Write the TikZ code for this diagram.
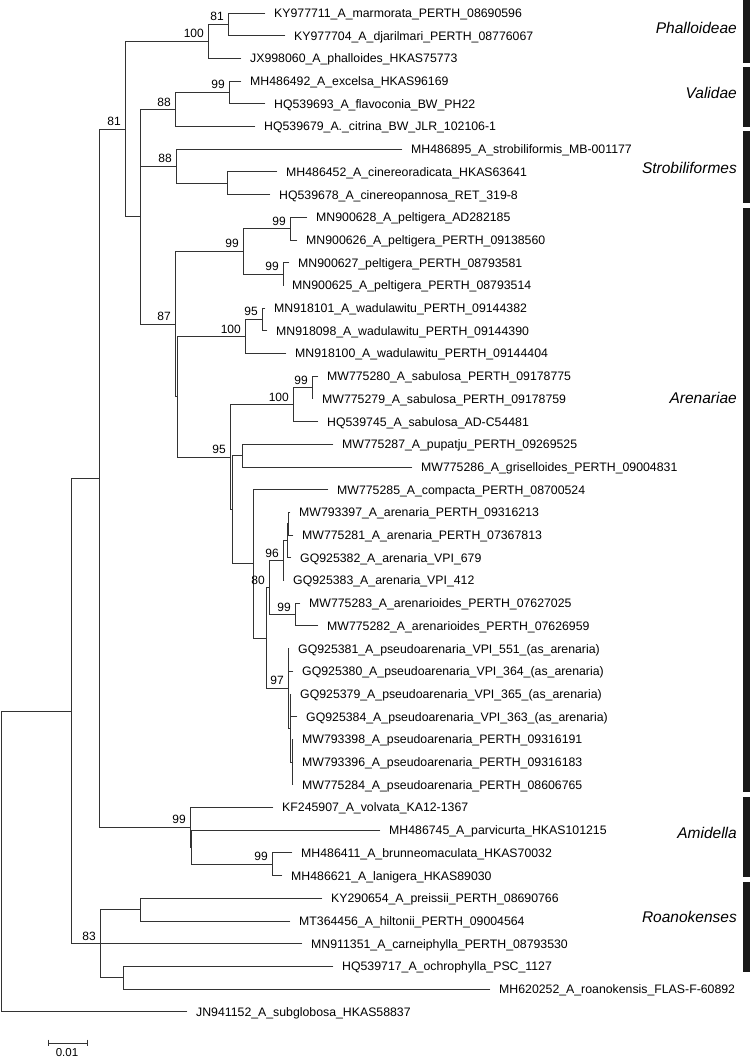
\documentclass[tikz,border=0pt]{standalone}
\usepackage{fontspec}
\setmainfont{Liberation Sans}
\begin{document}
\begin{tikzpicture}[x=1pt,y=-1pt,
  br/.style={draw=black!80,line width=0.9pt,line cap=rect},
  leaf/.style={anchor=base west,inner sep=0pt,font=\fontsize{12.3}{14}\selectfont,xshift=9pt,yshift=-4.4pt},
  bs/.style={anchor=base east,inner sep=0pt,font=\fontsize{12}{14}\selectfont,xshift=-4pt,yshift=3.5pt},
  clade/.style={anchor=base east,inner sep=0pt,font=\fontsize{15.5}{18}\selectfont\itshape,yshift=-5.5pt},
  cbar/.style={fill=black!90}]
\useasboundingbox (0,0) rectangle (750,1058);
% internal nodes
\coordinate (Root) at (1.5,861.4);
\coordinate (A) at (71,710.95);
\coordinate (B) at (99,478.2);
\coordinate (C) at (125,129.1);
\coordinate (Phal) at (208,41.4);
\coordinate (P81) at (228,24.35);
\coordinate (D) at (140,216.8);
\coordinate (Val) at (175,109.5);
\coordinate (V99) at (229,92.45);
\coordinate (Str) at (176,166.2);
\coordinate (S2) at (227,183.25);
\coordinate (E) at (175,324.1);
\coordinate (Pel) at (243,251.35);
\coordinate (Pa) at (290,228.65);
\coordinate (Pb) at (283,274.05);
\coordinate (F) at (177,396.8);
\coordinate (Wad) at (245,336.5);
\coordinate (W95) at (262,319.45);
\coordinate (G) at (230,457.15);
\coordinate (Sab) at (293,404.6);
\coordinate (S99) at (312,387.55);
\coordinate (H) at (232,509.7);
\coordinate (I) at (242,455.65);
\coordinate (J) at (253,563.8);
\coordinate (K) at (266,637.95);
\coordinate (M) at (269,587.6);
\coordinate (N96) at (283,560.65);
\coordinate (N) at (287,540.8);
\coordinate (N3) at (288,523.75);
\coordinate (A99) at (295,614.55);
\coordinate (P97) at (288,688.3);
\coordinate (Q) at (290,728.05);
\coordinate (R) at (292,762.1);
\coordinate (Am) at (190,827.35);
\coordinate (Am2) at (191,847.2);
\coordinate (Am99b) at (272,864.25);
\coordinate (R83) at (100,943.7);
\coordinate (R1) at (140,909.65);
\coordinate (R2) at (123,977.75);
% tips
\coordinate (t1) at (265,13);
\coordinate (t2) at (285,35.7);
\coordinate (t3) at (241,58.4);
\coordinate (t4) at (241,81.1);
\coordinate (t5) at (265,103.8);
\coordinate (t6) at (255,126.5);
\coordinate (t7) at (402,149.2);
\coordinate (t8) at (277,171.9);
\coordinate (t9) at (270,194.6);
\coordinate (t10) at (307,217.3);
\coordinate (t11) at (297,240);
\coordinate (t12) at (289,262.7);
\coordinate (t13) at (283,285.4);
\coordinate (t14) at (265,308.1);
\coordinate (t15) at (267,330.8);
\coordinate (t16) at (286,353.5);
\coordinate (t17) at (318,376.2);
\coordinate (t18) at (313,398.9);
\coordinate (t19) at (318,421.6);
\coordinate (t20) at (333,444.3);
\coordinate (t21) at (412,467);
\coordinate (t22) at (328,489.7);
\coordinate (t23) at (290,512.4);
\coordinate (t24) at (293,535.1);
\coordinate (t25) at (291,557.8);
\coordinate (t26) at (284,580.5);
\coordinate (t27) at (300,603.2);
\coordinate (t28) at (318,625.9);
\coordinate (t29) at (289,648.6);
\coordinate (t30) at (293,671.3);
\coordinate (t31) at (291,694);
\coordinate (t32) at (297,716.7);
\coordinate (t33) at (293,739.4);
\coordinate (t34) at (293,762.1);
\coordinate (t35) at (293,784.8);
\coordinate (t36) at (273,807.5);
\coordinate (t37) at (380,830.2);
\coordinate (t38) at (292,852.9);
\coordinate (t39) at (282,875.6);
\coordinate (t40) at (322,898.3);
\coordinate (t41) at (290,921);
\coordinate (t42) at (302,943.7);
\coordinate (t43) at (333,966.4);
\coordinate (t44) at (490,989.1);
\coordinate (t45) at (187,1011.8);
% leaf labels
\node[leaf] (n1) at (t1) {KY977711\_A\_marmorata\_PERTH\_08690596};
\node[leaf] (n2) at (t2) {KY977704\_A\_djarilmari\_PERTH\_08776067};
\node[leaf] (n3) at (t3) {JX998060\_A\_phalloides\_HKAS75773};
\node[leaf] (n4) at (t4) {MH486492\_A\_excelsa\_HKAS96169};
\node[leaf] (n5) at (t5) {HQ539693\_A\_flavoconia\_BW\_PH22};
\node[leaf] (n6) at (t6) {HQ539679\_A.\_citrina\_BW\_JLR\_102106-1};
\node[leaf] (n7) at (t7) {MH486895\_A\_strobiliformis\_MB-001177};
\node[leaf] (n8) at (t8) {MH486452\_A\_cinereoradicata\_HKAS63641};
\node[leaf] (n9) at (t9) {HQ539678\_A\_cinereopannosa\_RET\_319-8};
\node[leaf] (n10) at (t10) {MN900628\_A\_peltigera\_AD282185};
\node[leaf] (n11) at (t11) {MN900626\_A\_peltigera\_PERTH\_09138560};
\node[leaf] (n12) at (t12) {MN900627\_peltigera\_PERTH\_08793581};
\node[leaf] (n13) at (t13) {MN900625\_A\_peltigera\_PERTH\_08793514};
\node[leaf] (n14) at (t14) {MN918101\_A\_wadulawitu\_PERTH\_09144382};
\node[leaf] (n15) at (t15) {MN918098\_A\_wadulawitu\_PERTH\_09144390};
\node[leaf] (n16) at (t16) {MN918100\_A\_wadulawitu\_PERTH\_09144404};
\node[leaf] (n17) at (t17) {MW775280\_A\_sabulosa\_PERTH\_09178775};
\node[leaf] (n18) at (t18) {MW775279\_A\_sabulosa\_PERTH\_09178759};
\node[leaf] (n19) at (t19) {HQ539745\_A\_sabulosa\_AD-C54481};
\node[leaf] (n20) at (t20) {MW775287\_A\_pupatju\_PERTH\_09269525};
\node[leaf] (n21) at (t21) {MW775286\_A\_griselloides\_PERTH\_09004831};
\node[leaf] (n22) at (t22) {MW775285\_A\_compacta\_PERTH\_08700524};
\node[leaf] (n23) at (t23) {MW793397\_A\_arenaria\_PERTH\_09316213};
\node[leaf] (n24) at (t24) {MW775281\_A\_arenaria\_PERTH\_07367813};
\node[leaf] (n25) at (t25) {GQ925382\_A\_arenaria\_VPI\_679};
\node[leaf] (n26) at (t26) {GQ925383\_A\_arenaria\_VPI\_412};
\node[leaf] (n27) at (t27) {MW775283\_A\_arenarioides\_PERTH\_07627025};
\node[leaf] (n28) at (t28) {MW775282\_A\_arenarioides\_PERTH\_07626959};
\node[leaf] (n29) at (t29) {GQ925381\_A\_pseudoarenaria\_VPI\_551\_(as\_arenaria)};
\node[leaf] (n30) at (t30) {GQ925380\_A\_pseudoarenaria\_VPI\_364\_(as\_arenaria)};
\node[leaf] (n31) at (t31) {GQ925379\_A\_pseudoarenaria\_VPI\_365\_(as\_arenaria)};
\node[leaf] (n32) at (t32) {GQ925384\_A\_pseudoarenaria\_VPI\_363\_(as\_arenaria)};
\node[leaf] (n33) at (t33) {MW793398\_A\_pseudoarenaria\_PERTH\_09316191};
\node[leaf] (n34) at (t34) {MW793396\_A\_pseudoarenaria\_PERTH\_09316183};
\node[leaf] (n35) at (t35) {MW775284\_A\_pseudoarenaria\_PERTH\_08606765};
\node[leaf] (n36) at (t36) {KF245907\_A\_volvata\_KA12-1367};
\node[leaf] (n37) at (t37) {MH486745\_A\_parvicurta\_HKAS101215};
\node[leaf] (n38) at (t38) {MH486411\_A\_brunneomaculata\_HKAS70032};
\node[leaf] (n39) at (t39) {MH486621\_A\_lanigera\_HKAS89030};
\node[leaf] (n40) at (t40) {KY290654\_A\_preissii\_PERTH\_08690766};
\node[leaf] (n41) at (t41) {MT364456\_A\_hiltonii\_PERTH\_09004564};
\node[leaf] (n42) at (t42) {MN911351\_A\_carneiphylla\_PERTH\_08793530};
\node[leaf] (n43) at (t43) {HQ539717\_A\_ochrophylla\_PSC\_1127};
\node[leaf] (n44) at (t44) {MH620252\_A\_roanokensis\_FLAS-F-60892};
\node[leaf] (n45) at (t45) {JN941152\_A\_subglobosa\_HKAS58837};
% branches
\draw[br] (Root) |- (A); \draw[br] (Root) |- (t45);
\draw[br] (A) |- (B); \draw[br] (A) |- (R83);
\draw[br] (B) |- (C); \draw[br] (B) |- (Am);
\draw[br] (C) |- (Phal); \draw[br] (C) |- (D);
\draw[br] (Phal) |- (P81); \draw[br] (Phal) |- (t3);
\draw[br] (P81) |- (t1); \draw[br] (P81) |- (t2);
\draw[br] (D) |- (Val); \draw[br] (D) |- (Str); \draw[br] (D) |- (E);
\draw[br] (Val) |- (V99); \draw[br] (Val) |- (t6);
\draw[br] (V99) |- (t4); \draw[br] (V99) |- (t5);
\draw[br] (Str) |- (t7); \draw[br] (Str) |- (S2);
\draw[br] (S2) |- (t8); \draw[br] (S2) |- (t9);
\draw[br] (E) |- (Pel); \draw[br] (E) |- (F);
\draw[br] (Pel) |- (Pa); \draw[br] (Pel) |- (Pb);
\draw[br] (Pa) |- (t10); \draw[br] (Pa) |- (t11);
\draw[br] (Pb) |- (t12); \draw[br] (Pb) |- (t13);
\draw[br] (F) |- (Wad); \draw[br] (F) |- (G);
\draw[br] (Wad) |- (W95); \draw[br] (Wad) |- (t16);
\draw[br] (W95) |- (t14); \draw[br] (W95) |- (t15);
\draw[br] (G) |- (Sab); \draw[br] (G) |- (H);
\draw[br] (Sab) |- (S99); \draw[br] (Sab) |- (t19);
\draw[br] (S99) |- (t17); \draw[br] (S99) |- (t18);
\draw[br] (H) |- (I); \draw[br] (H) |- (J);
\draw[br] (I) |- (t20); \draw[br] (I) |- (t21);
\draw[br] (J) |- (t22); \draw[br] (J) |- (K);
\draw[br] (K) |- (M); \draw[br] (K) |- (P97);
\draw[br] (M) |- (N96); \draw[br] (M) |- (A99);
\draw[br] (N96) |- (N); \draw[br] (N96) |- (t26);
\draw[br] (N) |- (N3); \draw[br] (N) |- (t25);
\draw[br] (N3) |- (t23); \draw[br] (N3) |- (t24);
\draw[br] (A99) |- (t27); \draw[br] (A99) |- (t28);
\draw[br] (P97) |- (t29); \draw[br] (P97) |- (t30); \draw[br] (P97) |- (Q);
\draw[br] (Q) |- (t31); \draw[br] (Q) |- (t32); \draw[br] (Q) |- (R);
\draw[br] (R) |- (t33); \draw[br] (R) |- (t34); \draw[br] (R) |- (t35);
\draw[br] (Am) |- (t36); \draw[br] (Am) |- (Am2);
\draw[br] (Am2) |- (t37); \draw[br] (Am2) |- (Am99b);
\draw[br] (Am99b) |- (t38); \draw[br] (Am99b) |- (t39);
\draw[br] (R83) |- (R1); \draw[br] (R83) |- (t42); \draw[br] (R83) |- (R2);
\draw[br] (R1) |- (t40); \draw[br] (R1) |- (t41);
\draw[br] (R2) |- (t43); \draw[br] (R2) |- (t44);
% bootstrap values
\node[bs] (b1) at (P81) {81};
\node[bs] (b2) at (Phal) {100};
\node[bs] (b3) at (V99) {99};
\node[bs] (b4) at (Val) {88};
\node[bs] (b5) at (C) {81};
\node[bs] (b6) at (Str) {88};
\node[bs] (b7) at (Pa) {99};
\node[bs] (b8) at (Pel) {99};
\node[bs] (b9) at (Pb) {99};
\node[bs] (b10) at (E) {87};
\node[bs] (b11) at (W95) {95};
\node[bs] (b12) at (Wad) {100};
\node[bs] (b13) at (S99) {99};
\node[bs] (b14) at (Sab) {100};
\node[bs] (b15) at (G) {95};
\node[bs] (b16) at (N96) {96};
\node[bs] (b17) at (M) {80};
\node[bs] (b18) at (A99) {99};
\node[bs] (b19) at (P97) {97};
\node[bs] (b20) at (Am) {99};
\node[bs] (b21) at (Am99b) {99};
\node[bs] (b22) at (R83) {83};
% clade bars and names
\fill[cbar] (743,0) rectangle (750,63);
\fill[cbar] (743,67) rectangle (750,127);
\fill[cbar] (743,131) rectangle (750,203);
\fill[cbar] (743,208) rectangle (750,792);
\fill[cbar] (743,797) rectangle (750,877);
\fill[cbar] (743,882) rectangle (750,972);
\node[clade] (c1) at (737,28) {Phalloideae};
\node[clade] (c2) at (737,93) {Validae};
\node[clade] (c3) at (737,168) {Strobiliformes};
\node[clade] (c4) at (737,398) {Arenariae};
\node[clade] (c5) at (737,833) {Amidella};
\node[clade] (c6) at (737,917) {Roanokenses};
% scale bar
\coordinate (s1) at (48,1043);
\coordinate (s2) at (87,1043);
\draw[br,line cap=butt] (s1) -- (s2);
\draw[br,line cap=butt] ([yshift=3.3pt]s1) -- ([yshift=-3.3pt]s1);
\draw[br,line cap=butt] ([yshift=3.3pt]s2) -- ([yshift=-3.3pt]s2);
\node[font=\fontsize{11.5}{13}\selectfont,inner sep=0pt] (sl) at (67,1053) {0.01};
\end{tikzpicture}
\end{document}
